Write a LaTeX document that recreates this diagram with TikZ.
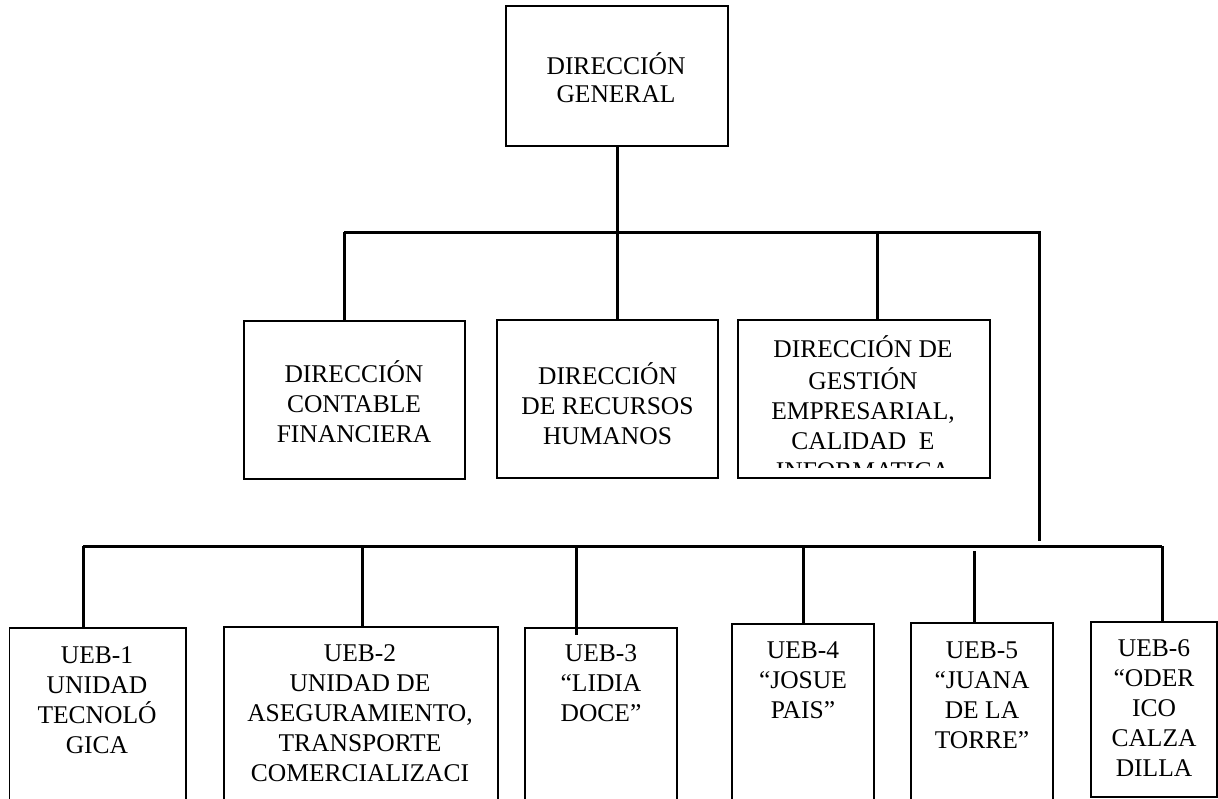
\documentclass[tikz,border=0pt]{standalone}
\usepackage{fontspec}
\setmainfont{Liberation Serif}
\usetikzlibrary{positioning}

\begin{document}
\begin{tikzpicture}[x=1pt, y=-1pt, line width=3pt,
    box/.style={draw, rectangle, line width=1.5pt, inner sep=0pt},
    txt/.style={anchor=north, align=center, inner sep=0pt,
                font=\fontsize{25.5}{30}\selectfont}]
    \useasboundingbox (0,0) rectangle (1218,798);

    % Nodes
    \node[box, minimum width=222, minimum height=140] (gen) at (617,76) {};
    \node[txt] (genT) at (616,51) {\strut DIRECCIÓN\\[-2pt]GENERAL};

    \node[box, minimum width=221, minimum height=158] (dcf) at (354.5,400) {};
    \node[box, minimum width=221, minimum height=158] (drh) at (607.5,399) {};
    \node[box, minimum width=252, minimum height=158] (dge) at (864,399) {};
    \node[txt] (dcfT) at (354,359) {\strut DIRECCIÓN\\CONTABLE\\FINANCIERA};
    \node[txt] (drhT) at (607.5,361) {\strut DIRECCIÓN\\DE RECURSOS\\HUMANOS};
    \begin{scope}
        \clip (740,322) rectangle (988,467);
        \node[txt] (dgeT) at (863,334) {\strut DIRECCIÓN DE\\GESTIÓN\\EMPRESARIAL,\\CALIDAD \ E\\INFORMATICA};
    \end{scope}

    \node[box, minimum width=176.5, minimum height=202] (ueb1) at (97.75,729) {};
    \node[box, minimum width=274, minimum height=203] (ueb2) at (361,728.5) {};
    \node[box, minimum width=152, minimum height=202] (ueb3) at (601,729) {};
    \node[box, minimum width=142, minimum height=206] (ueb4) at (803,727) {};
    \node[box, minimum width=142, minimum height=207] (ueb5) at (982,726.5) {};
    \node[box, minimum width=126, minimum height=175] (ueb6) at (1154,709.5) {};
    \node[txt] (ueb1T) at (97,641) {\strut UEB-1\\UNIDAD\\TECNOLÓ\\GICA};
    \node[txt] (ueb2T) at (360,639) {\strut UEB-2\\UNIDAD DE\\ASEGURAMIENTO,\\TRANSPORTE\\COMERCIALIZACI};
    \node[txt] (ueb3T) at (601,639) {\strut UEB-3\\“LIDIA\\DOCE”};
    \node[txt] (ueb4T) at (803,636) {\strut UEB-4\\“JOSUE\\PAIS”};
    \node[txt] (ueb5T) at (982,636) {\strut UEB-5\\“JUANA\\DE LA\\TORRE”};
    \node[txt] (ueb6T) at (1154,634) {\strut UEB-6\\“ODER\\ICO\\CALZA\\DILLA};

    % Connectors
    \coordinate (top1) at (344,232);
    \coordinate (top3) at (877,232);
    \coordinate (topR) at (1039,232);
    \coordinate (dropR) at (1039,541);
    \coordinate (bus1) at (83,546);
    \coordinate (bus2) at (362,546);
    \coordinate (bus3) at (576,546);
    \coordinate (bus4) at (803,546);
    \coordinate (bus5) at (974,551);
    \coordinate (bus6) at (1162,546);

    \draw (gen.south) -- (gen.south |- drh.north);
    \draw (top1) -- (topR) -- (dropR);
    \draw (top1) -- (top1 |- dcf.north);
    \draw (top3) -- (top3 |- dge.north);

    \draw (bus1) -- (bus6);
    \draw (bus1) -- (bus1 |- ueb1.north);
    \draw (bus2) -- (bus2 |- ueb2.north);
    \draw (bus3) -- ++(0,89);
    \draw (bus4) -- (bus4 |- ueb4.north);
    \draw (bus5) -- (bus5 |- ueb5.north);
    \draw (bus6) -- (bus6 |- ueb6.north);
\end{tikzpicture}
\end{document}
